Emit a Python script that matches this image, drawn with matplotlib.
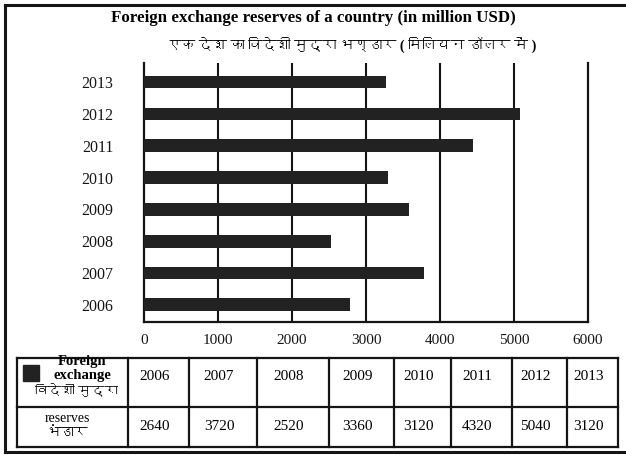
import matplotlib
matplotlib.use("Agg")
import matplotlib.pyplot as plt
from matplotlib import font_manager
from matplotlib.ft2font import FT2Font

years = ["2006", "2007", "2008", "2009", "2010", "2011", "2012", "2013"]
# bar lengths as drawn in the picture (they do not quite follow the printed table)
bar_values = [2780, 3780, 2530, 3580, 3300, 4440, 5080, 3270]
# values printed in the table under the chart
table_values = [2640, 3720, 2520, 3360, 3120, 4320, 5040, 3120]
x_ticks = [0, 1000, 2000, 3000, 4000, 5000, 6000]

title_en = "Foreign exchange reserves of a country (in million USD)"
title_hi = "एक देश का विदेशी मुद्रा भण्डार ( मिलियन डॉलर में )"
legend_lines = ["Foreign", "exchange", "विदेशी मुद्रा"]
row2_lines = ["reserves", "भंडार"]


def find_family(ch):
    for f in font_manager.fontManager.ttflist:
        try:
            if ord(ch) in FT2Font(f.fname).get_charmap():
                return f.name
        except Exception:
            pass
    return None


deva = find_family("क")
SERIF = ["Liberation Serif"] + ([deva] if deva else []) + ["DejaVu Sans"]
plt.rcParams["font.family"] = SERIF

BAR = "#222222"
INK = "#151515"

fig = plt.figure(figsize=(6.26, 4.55), dpi=100)

# overlay in pixel coordinates for frame and table
ov = fig.add_axes([0, 0, 1, 1])
ov.set_xlim(0, 626)
ov.set_ylim(455, 0)
ov.axis("off")

# outer frame
ov.plot([5, 5], [5, 452], color=INK, lw=2.2)
ov.plot([5, 626], [5, 5], color=INK, lw=2.2)
ov.plot([5, 626], [452, 452], color=INK, lw=2.2)

# titles
ov.text(313, 18, title_en, ha="center", va="center", fontsize=12.2, fontweight="bold")
ov.text(352, 45, title_hi, ha="center", va="center", fontsize=10.2, fontweight="bold")

# chart
ax = fig.add_axes([144 / 626, 1 - 322 / 455, (588 - 144) / 626, (322 - 63) / 455])
ypos = list(range(len(years)))
ax.barh(ypos, bar_values, height=0.4, color=BAR, zorder=3)
ax.set_xlim(0, 6000)
ax.set_ylim(-0.54, 7.6)
ax.set_xticks(x_ticks)
ax.set_xticklabels([str(t) for t in x_ticks], fontsize=11)
ax.set_yticks(ypos)
ax.set_yticklabels(years, fontsize=11.5)
ax.tick_params(axis="both", length=0, colors=INK)
ax.tick_params(axis="y", pad=22)
ax.tick_params(axis="x", pad=9)
for t in x_ticks[1:-1]:
    ax.axvline(t, color=INK, lw=1.5, zorder=2)
ax.spines["top"].set_visible(False)
for s in ["left", "right", "bottom"]:
    ax.spines[s].set_linewidth(1.6)
    ax.spines[s].set_color(INK)
ax.patch.set_alpha(0)

# table
col_edges = [17, 128, 189, 257, 329, 394, 451, 512, 567, 618]
row_edges = [358, 407, 447]
for x in col_edges:
    ov.plot([x, x], [row_edges[0], row_edges[-1]], color=INK, lw=1.6)
for y in row_edges:
    ov.plot([col_edges[0], col_edges[-1]], [y, y], color=INK, lw=1.6)

ov.add_patch(plt.Rectangle((23, 365), 16, 16, color=BAR))
for i, (txt, yy) in enumerate(zip(legend_lines, [362, 376, 391])):
    ov.text(82 if i < 2 else 76, yy, txt, ha="center", va="center",
            fontsize=10.5 if i < 2 else 9.5, fontweight="bold")
for txt, yy in zip(row2_lines, [418, 433]):
    ov.text(67, yy, txt, ha="center", va="center", fontsize=10)

for i, (yr, val) in enumerate(zip(years, table_values)):
    cx = (col_edges[i + 1] + col_edges[i + 2]) / 2 - 4
    ov.text(cx, 377, yr, ha="center", va="center", fontsize=11)
    ov.text(cx, 427, str(val), ha="center", va="center", fontsize=11)

fig.savefig("out.png", dpi=100, facecolor="white")
